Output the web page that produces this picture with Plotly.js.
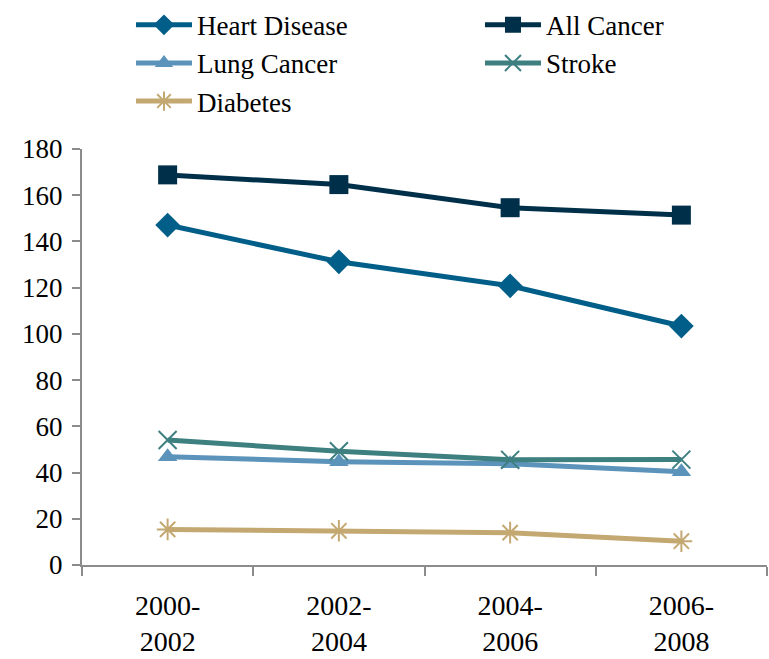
<!DOCTYPE html>
<html>
<head>
<meta charset="utf-8">
<script src="https://cdn.plot.ly/plotly-3.0.1.min.js"></script>
<style>html,body{margin:0;padding:0;background:#fff;}#chart{width:769px;height:659px;}</style>
</head>
<body>
<div id="chart"></div>
<script>
const periods = ["2000-<br>2002", "2002-<br>2004", "2004-<br>2006", "2006-<br>2008"];
const heartDisease = [147.1, 131.2, 120.8, 103.4];
const allCancer = [168.8, 164.6, 154.6, 151.4];
const lungCancer = [46.8, 44.7, 43.8, 40.4];
const stroke = [54.1, 49.2, 45.5, 45.6];
const diabetes = [15.4, 14.8, 14.0, 10.3];
const yTicks = [0, 20, 40, 60, 80, 100, 120, 140, 160, 180];

const fam = "Liberation Serif, Times New Roman, serif";
function tr(name, y, color, symbol, size, legend) {
  const open = symbol.indexOf("open") >= 0;
  return {
    x: periods, y: y, name: name, type: "scatter", mode: "lines+markers",
    legend: legend,
    line: {color: color, width: 5},
    marker: {symbol: symbol, size: size, color: color, line: {color: color, width: open ? 2 : 0}}
  };
}
const data = [
  tr("Heart Disease", heartDisease, "#005E88", "diamond", 19, "legend"),
  tr("All Cancer", allCancer, "#003049", "square", 19, "legend2"),
  tr("Lung Cancer", lungCancer, "#5B93BB", "triangle-up", 17, "legend"),
  tr("Stroke", stroke, "#3E7F80", "x-thin-open", 18, "legend2"),
  tr("Diabetes", diabetes, "#C4A872", "asterisk-open", 18, "legend")
];
const legFont = {family: fam, size: 27, color: "#000"};
const layout = {
  width: 769, height: 659,
  margin: {l: 82, r: 2, t: 148, b: 94},
  paper_bgcolor: "#fff", plot_bgcolor: "#fff",
  font: {family: fam, color: "#000", size: 27},
  showlegend: true,
  legend: {
    x: 0.0715, xanchor: "left", y: 1.353, yanchor: "top",
    itemwidth: 56, font: legFont, traceorder: "normal", tracegroupgap: 0, bgcolor: "rgba(0,0,0,0)"
  },
  legend2: {
    x: 0.581, xanchor: "left", y: 1.353, yanchor: "top",
    itemwidth: 56, font: legFont, traceorder: "normal", tracegroupgap: 0, bgcolor: "rgba(0,0,0,0)"
  },
  xaxis: {
    type: "category", tickson: "boundaries", ticks: "outside", ticklen: 9, tickwidth: 2,
    tickcolor: "#8c8c8c", showline: true, linecolor: "#8c8c8c", linewidth: 2,
    showgrid: false, zeroline: false, tickfont: {family: fam, size: 28, color: "#000"},
    range: [-0.5, 3.5], ticklabelstandoff: 14
  },
  yaxis: {
    range: [0, 180], tickvals: yTicks, ticks: "outside", ticklen: 8, tickwidth: 2,
    tickcolor: "#8c8c8c", showline: true, linecolor: "#8c8c8c", linewidth: 2,
    showgrid: false, zeroline: false, tickfont: {family: fam, size: 27, color: "#000"}, ticklabelstandoff: 4
  }
};
function draw() { Plotly.newPlot("chart", data, layout, {displayModeBar: false}); }
if (document.fonts && document.fonts.load) {
  Promise.all([
    document.fonts.load('27px "Liberation Serif"', 'Heart Disease 2000-'),
    document.fonts.load('27px "Times New Roman"', 'Heart Disease 2000-')
  ]).then(draw, draw);
} else { draw(); }
</script>
</body>
</html>
